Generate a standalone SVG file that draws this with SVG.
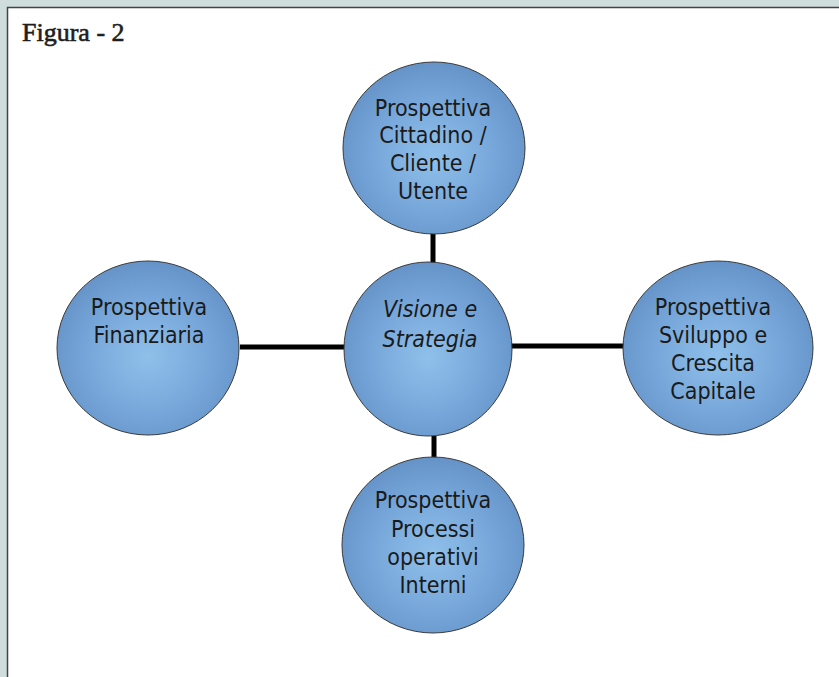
<svg xmlns="http://www.w3.org/2000/svg" width="839" height="677" viewBox="0 0 839 677">
  <defs>
    <radialGradient id="ballFill" cx="50%" cy="55%" r="55%">
      <stop offset="0" stop-color="#8fc0ea"/>
      <stop offset="0.6" stop-color="#77a7da"/>
      <stop offset="1" stop-color="#6593c8"/>
    </radialGradient>
    <style>
      .ball { fill: url(#ballFill); stroke: #3a3a3a; stroke-width: 1; }
      .lbl { font-family: "DejaVu Sans Condensed", "DejaVu Sans", Verdana, sans-serif; font-stretch: condensed; font-size: 23px; fill: #1a1a1a; text-anchor: middle; }
      .it { font-style: italic; }
      .conn { stroke: #000; stroke-width: 5; fill: none; }
      .title { font-family: "Liberation Serif", "Times New Roman", serif; font-size: 26px; font-weight: normal; fill: #1e1e1e; stroke: #1e1e1e; stroke-width: 0.6; }
    </style>
  </defs>

  <rect x="0" y="0" width="839" height="677" fill="#cfdddd"/>
  <rect x="7.5" y="7.5" width="840" height="680" fill="#ffffff" stroke="#444" stroke-width="1.5"/>

  <text class="title" x="22" y="41">Figura - 2</text>

  <g id="connectors">
    <line class="conn" x1="433" y1="233" x2="433" y2="263"/>
    <line class="conn" x1="434" y1="436" x2="434" y2="458"/>
    <line class="conn" x1="240" y1="347" x2="345" y2="347"/>
    <line class="conn" x1="511" y1="346" x2="624" y2="346"/>
  </g>

  <g id="node-cittadino">
    <ellipse class="ball" cx="434" cy="148" rx="91" ry="86"/>
    <text class="lbl" x="433" y="116">Prospettiva</text>
    <text class="lbl" x="433" y="143">Cittadino /</text>
    <text class="lbl" x="433" y="171">Cliente /</text>
    <text class="lbl" x="433" y="199">Utente</text>
  </g>

  <g id="node-visione">
    <ellipse class="ball" cx="428" cy="349" rx="84" ry="87"/>
    <text class="lbl it" x="430" y="317">Visione e</text>
    <text class="lbl it" x="430" y="347">Strategia</text>
  </g>

  <g id="node-finanziaria">
    <ellipse class="ball" cx="148" cy="348" rx="91" ry="87"/>
    <text class="lbl" x="149" y="315">Prospettiva</text>
    <text class="lbl" x="149" y="343">Finanziaria</text>
  </g>

  <g id="node-sviluppo">
    <ellipse class="ball" cx="718" cy="348" rx="95" ry="87"/>
    <text class="lbl" x="713" y="315">Prospettiva</text>
    <text class="lbl" x="713" y="343">Sviluppo e</text>
    <text class="lbl" x="713" y="371">Crescita</text>
    <text class="lbl" x="713" y="399">Capitale</text>
  </g>

  <g id="node-processi">
    <ellipse class="ball" cx="433" cy="545" rx="91" ry="88"/>
    <text class="lbl" x="433" y="508">Prospettiva</text>
    <text class="lbl" x="433" y="537">Processi</text>
    <text class="lbl" x="433" y="565">operativi</text>
    <text class="lbl" x="433" y="593">Interni</text>
  </g>
</svg>
